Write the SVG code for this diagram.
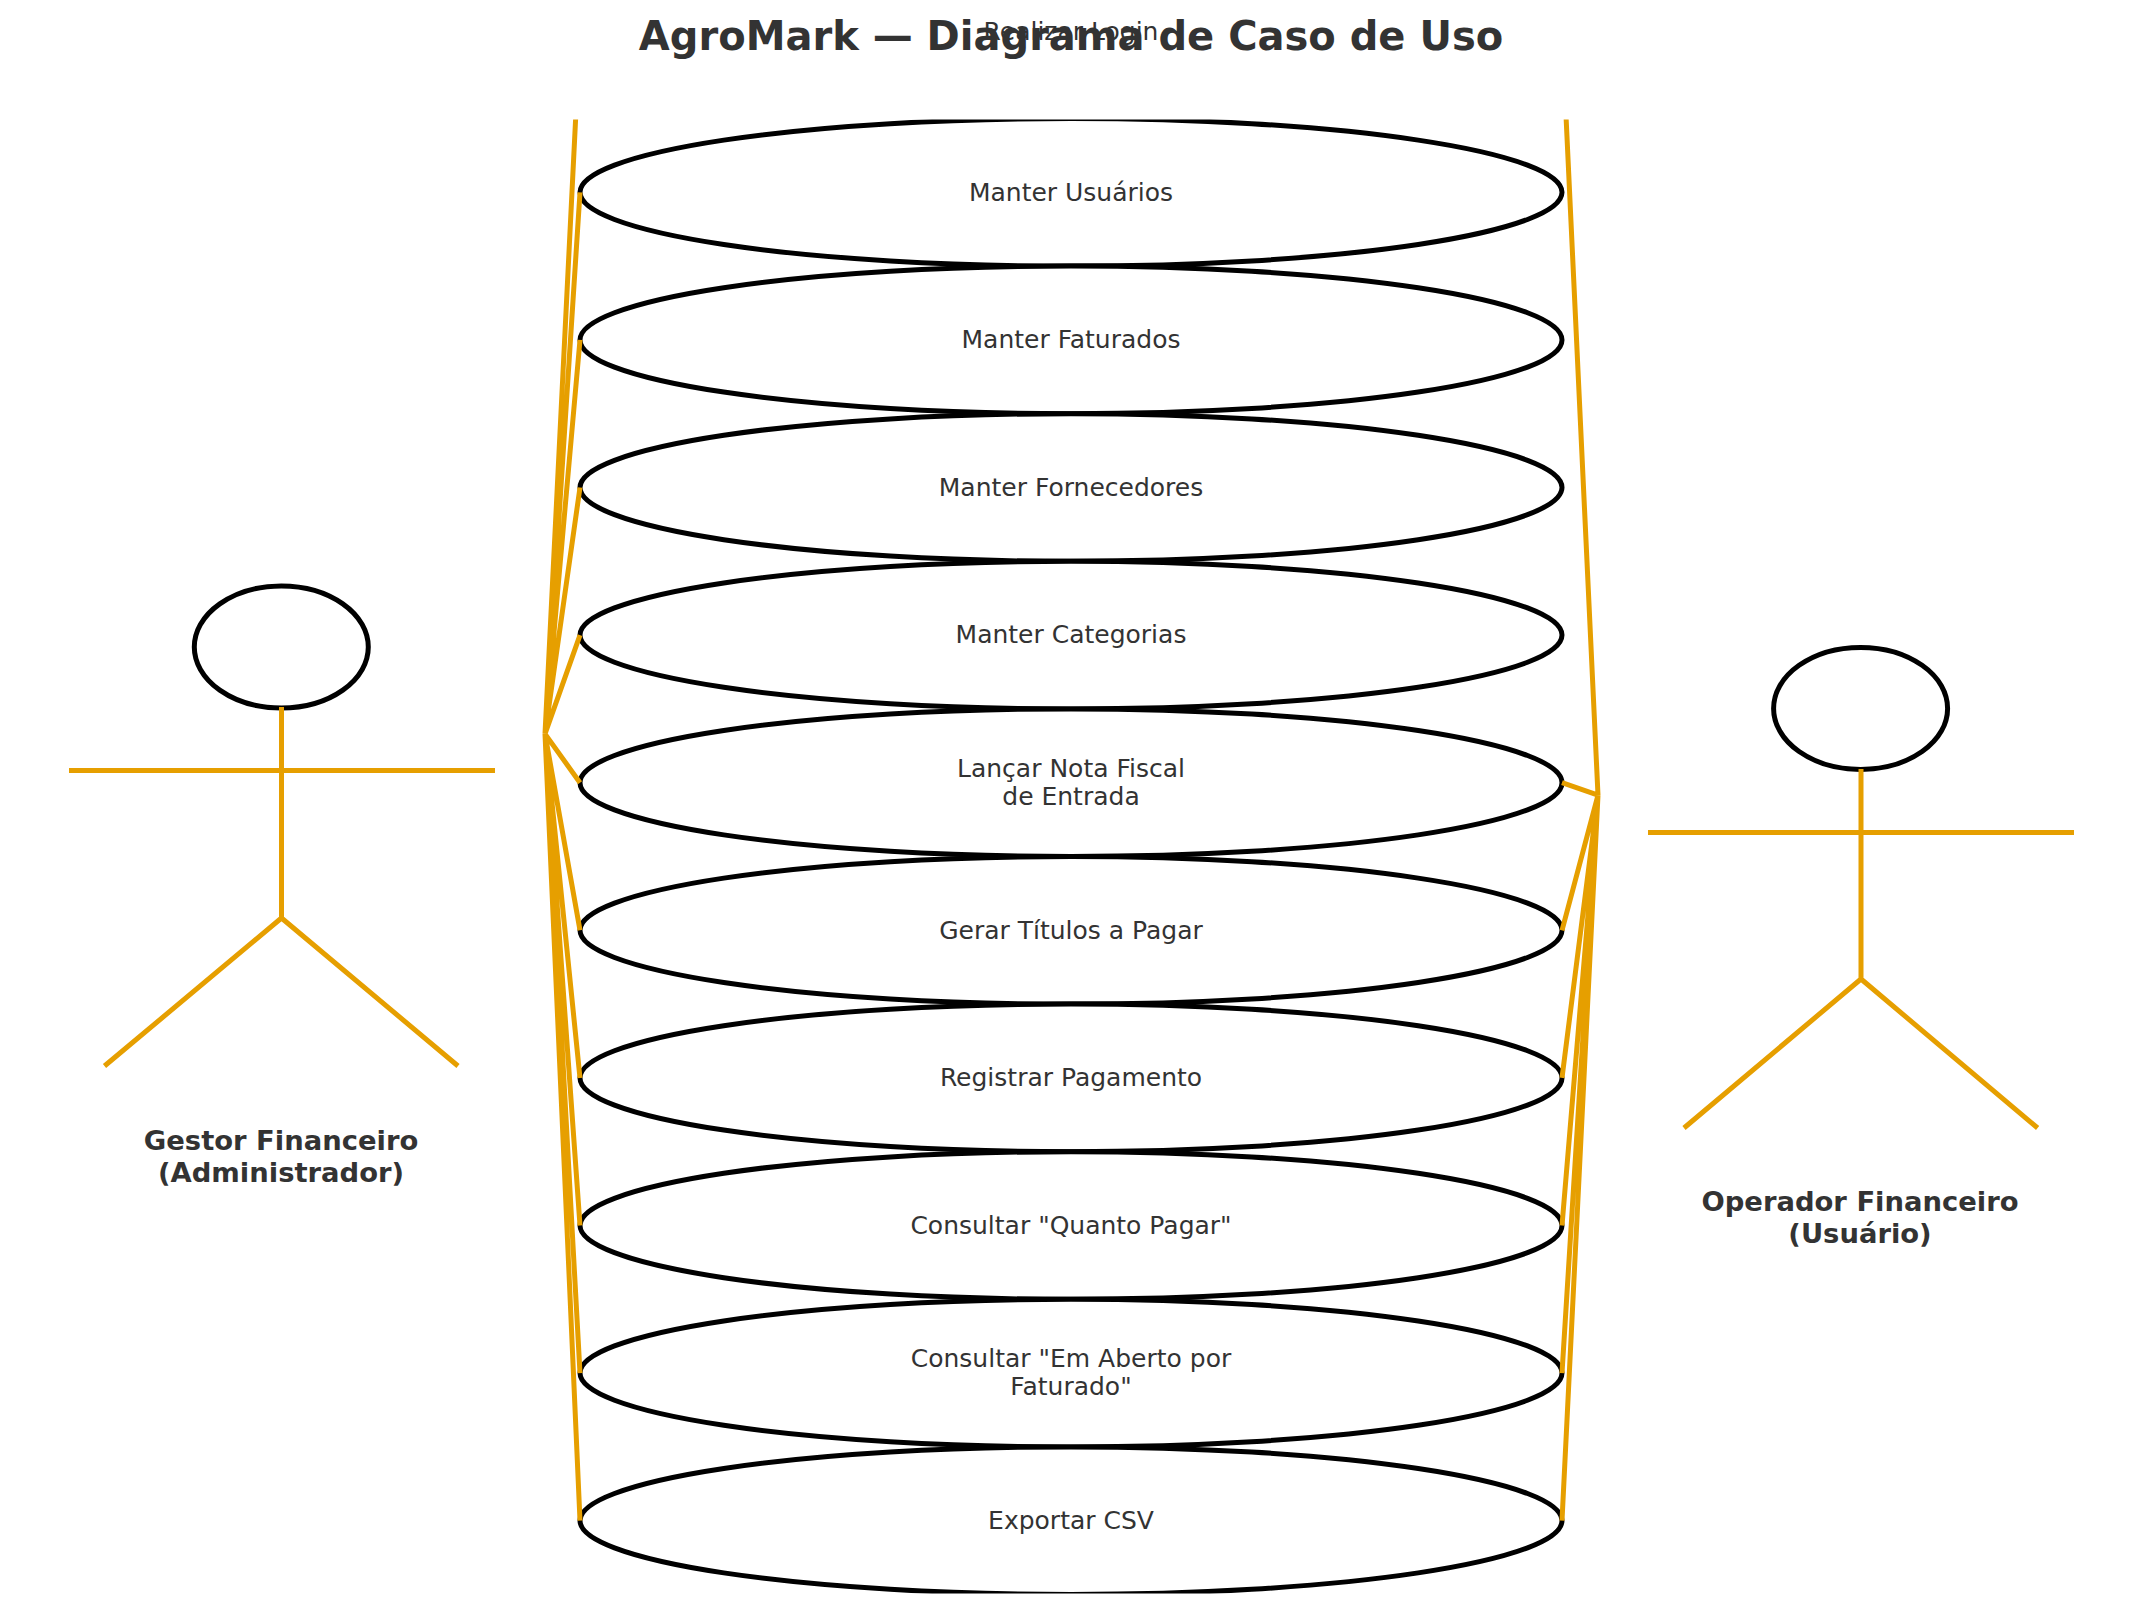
<svg xmlns="http://www.w3.org/2000/svg" width="2141" height="1612" viewBox="0 0 2141 1612">
<style>
text{font-family:"DejaVu Sans",sans-serif;fill:#333333;text-anchor:middle}
.t{font-size:40px;font-weight:bold}
.u{font-size:25px}
.a{font-size:27.4px;font-weight:bold}
.e{fill:#fff;stroke:#000;stroke-width:5}
.h{fill:none;stroke:#000;stroke-width:5}
.l{stroke:#E69F00;stroke-width:5;fill:none}
</style>
<defs><clipPath id="c"><rect x="0" y="119.5" width="2141" height="1474"/></clipPath></defs>
<rect width="2141" height="1612" fill="#fff"/>
<g clip-path="url(#c)">
<g id="uc1"><ellipse class="e" cx="1071" cy="192.3" rx="491" ry="73.8"/></g>
<g id="uc2"><ellipse class="e" cx="1071" cy="339.9" rx="491" ry="73.8"/></g>
<g id="uc3"><ellipse class="e" cx="1071" cy="487.5" rx="491" ry="73.8"/></g>
<g id="uc4"><ellipse class="e" cx="1071" cy="635.1" rx="491" ry="73.8"/></g>
<g id="uc5"><ellipse class="e" cx="1071" cy="782.7" rx="491" ry="73.8"/></g>
<g id="uc6"><ellipse class="e" cx="1071" cy="930.3" rx="491" ry="73.8"/></g>
<g id="uc7"><ellipse class="e" cx="1071" cy="1077.9" rx="491" ry="73.8"/></g>
<g id="uc8"><ellipse class="e" cx="1071" cy="1225.5" rx="491" ry="73.8"/></g>
<g id="uc9"><ellipse class="e" cx="1071" cy="1373.1" rx="491" ry="73.8"/></g>
<g id="uc10"><ellipse class="e" cx="1071" cy="1520.7" rx="491" ry="73.8"/></g>
<g id="connectors" class="l">
<path d="M545 733.9L580 31M545 733.9L580 192.3M545 733.9L580 339.9M545 733.9L580 487.5M545 733.9L580 635.1M545 733.9L580 782.7M545 733.9L580 930.3M545 733.9L580 1077.9M545 733.9L580 1225.5M545 733.9L580 1373.1M545 733.9L580 1520.7"/>
<path d="M1598 795.2L1562 31M1598 795.2L1562 782.7M1598 795.2L1562 930.3M1598 795.2L1562 1077.9M1598 795.2L1562 1225.5M1598 795.2L1562 1373.1M1598 795.2L1562 1520.7"/>
</g>
</g>
<g id="labels">
<text class="u" x="1071" y="40">Realizar Login</text>
<text class="u" x="1071" y="200.5">Manter Usuários</text>
<text class="u" x="1071" y="348">Manter Faturados</text>
<text class="u" x="1071" y="495.5">Manter Fornecedores</text>
<text class="u" x="1071" y="643">Manter Categorias</text>
<text class="u" x="1071" y="777">Lançar Nota Fiscal</text>
<text class="u" x="1071" y="805">de Entrada</text>
<text class="u" x="1071" y="938.5">Gerar Títulos a Pagar</text>
<text class="u" x="1071" y="1086">Registrar Pagamento</text>
<text class="u" x="1071" y="1233.5">Consultar "Quanto Pagar"</text>
<text class="u" x="1071" y="1367">Consultar "Em Aberto por</text>
<text class="u" x="1071" y="1395">Faturado"</text>
<text class="u" x="1071" y="1529">Exportar CSV</text>
</g>
<g id="actor1">
<ellipse class="h" cx="281.3" cy="647" rx="87" ry="61"/>
<path class="l" d="M281.5 707V918M69 770.4H495M281.5 918L104.5 1066M281.5 918L458 1066"/>
<text class="a" x="281" y="1150">Gestor Financeiro</text>
<text class="a" x="281" y="1182">(Administrador)</text>
</g>
<g id="actor2">
<ellipse class="h" cx="1860.6" cy="708.4" rx="87" ry="61"/>
<path class="l" d="M1861 769V979M1648 832.5H2074M1861 979L1684 1128M1861 979L2037.6 1128"/>
<text class="a" x="1860" y="1211">Operador Financeiro</text>
<text class="a" x="1860" y="1243">(Usuário)</text>
</g>
<text class="t" x="1071" y="50">AgroMark — Diagrama de Caso de Uso</text>
</svg>
